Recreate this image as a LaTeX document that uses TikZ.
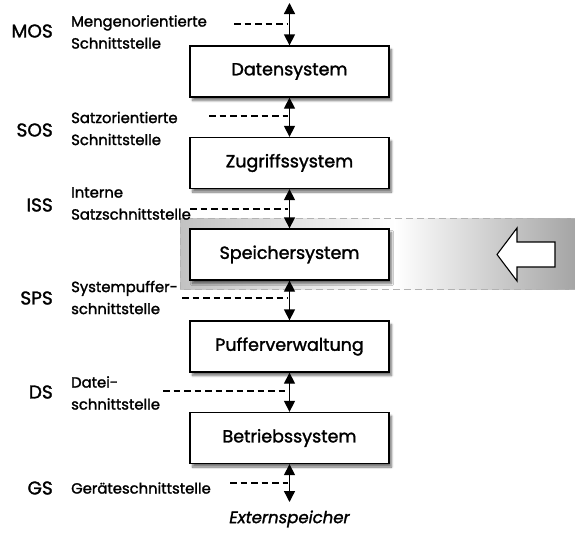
\documentclass[tikz,border=0pt]{standalone}
\usepackage{fontspec}
\setmainfont{Poppins}[FakeBold=1.6]
\usetikzlibrary{arrows.meta,shadows.blur}
\pgfdeclarehorizontalshading{bandshade}{100bp}{color(0bp)=(gray!48); color(25bp)=(gray!48); color(52bp)=(white); color(75bp)=(gray!72); color(100bp)=(gray!72)}
\tikzset{
  sysbox/.style={draw, line width=1.3pt, fill=white, minimum width=199pt, minimum height=51pt,
    blur shadow={shadow xshift=2.5pt, shadow yshift=-3.5pt, shadow blur steps=6, shadow opacity=55},
    font=\fontsize{17.5}{20}\selectfont},
  lbl/.style={anchor=west, align=left, inner sep=0pt, font=\fontsize{14.8}{22}\selectfont},
  abbr/.style={anchor=east, inner sep=0pt, font=\fontsize{18.5}{20}\selectfont},
  dbl/.style={{Triangle[length=11pt,width=11pt]}-{Triangle[length=11pt,width=11pt]}, line width=1.3pt},
  iflink/.style={line width=1.2pt, dash pattern=on 6.5pt off 4pt},
  bandborder/.style={gray!60, line width=1pt, dash pattern=on 7pt off 4pt}
}
\begin{document}
\begin{tikzpicture}[x=1pt,y=-1pt]
\useasboundingbox (0,0) rectangle (575,533);
% grey band
\path[shading=bandshade] (180,218) rectangle (578,289);
\draw[bandborder] (578,218) -- (180,218) -- (180,289) -- (578,289);
% block arrow
\draw[line width=1.1pt, fill=white, line join=miter] (497,254.5) -- (517,228) -- (517,242) -- (555,242) -- (555,267) -- (517,267) -- (517,281) -- cycle;
% boxes
\node[sysbox] (ds) at (289.5,71.5) {Datensystem};
\node[sysbox] (zs) at (289.5,163) {Zugriffssystem};
\node[sysbox] (ss) at (289.5,254.5) {Speichersystem};
\node[sysbox] (pv) at (289.5,346.5) {Pufferverwaltung};
\node[sysbox] (bs) at (289.5,438) {Betriebssystem};
% free ends
\coordinate (top) at (289.5,3);
\coordinate (bot) at (289.5,502);
\draw[dbl] (top) -- (ds.north);
\draw[dbl] (ds.south) -- (zs.north);
\draw[dbl] (zs.south) -- (ss.north);
\draw[dbl] (ss.south) -- (pv.north);
\draw[dbl] (pv.south) -- (bs.north);
\draw[dbl] (bs.south) -- (bot);
\node[font=\fontsize{16.5}{18}\selectfont\itshape] (ext) at (289.5,519) {Externspeicher};
% abbreviations
\node[abbr] (mos) at (53,31) {MOS};
\node[abbr] (sos) at (53,130) {SOS};
\node[abbr] (iss) at (53,205) {ISS};
\node[abbr] (sps) at (53,298) {SPS};
\node[abbr] (dsa) at (53,392) {DS};
\node[abbr] (gsa) at (53,488) {GS};
% labels
\node[lbl] (lmos) at (71,32) {Mengenorientierte\\Schnittstelle};
\node[lbl] (lsos) at (71,128.5) {Satzorientierte\\Schnittstelle};
\node[lbl] (liss) at (71,203.5) {Interne\\Satzschnittstelle};
\node[lbl] (lsps) at (71,297.5) {Systempuffer-\\schnittstelle};
\node[lbl] (ldsa) at (71,393) {Datei-\\schnittstelle};
\node[lbl] (lgsa) at (71,488) {Geräteschnittstelle};
% dashed interface lines
\coordinate (a1) at (234,24);  \coordinate (b1) at (288,24);
\coordinate (a2) at (209,116); \coordinate (b2) at (288,116);
\coordinate (a3) at (190,209); \coordinate (b3) at (288,209);
\coordinate (a4) at (182,298); \coordinate (b4) at (288,298);
\coordinate (a5) at (163,391); \coordinate (b5) at (288,391);
\coordinate (a6) at (230,483); \coordinate (b6) at (288,483);
\foreach \i in {1,...,6} \draw[iflink] (a\i) -- (b\i);
\end{tikzpicture}
\end{document}
